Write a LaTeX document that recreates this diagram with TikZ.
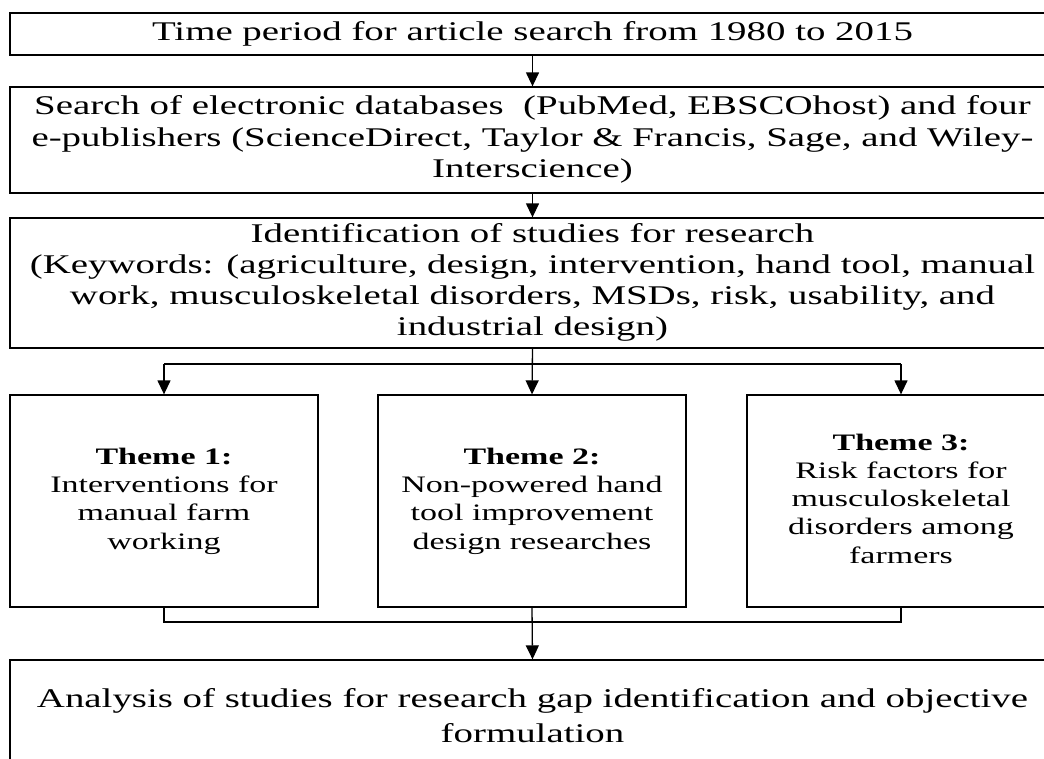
\documentclass[tikz,border=0pt]{standalone}
\usepackage{graphicx}
\usepackage{fontspec}
\setmainfont{Liberation Serif}
\usetikzlibrary{arrows.meta}

% wide serif text block: #1 font size, #2 line skip, #3 lines
\newcommand{\widetext}[3]{%
  \scalebox{1.44}[1]{\fontsize{#1}{#2}\selectfont
    \begin{tabular}{@{}c@{}}#3\end{tabular}}}

\tikzset{
  box/.style={draw=black, line width=1.3pt, rectangle, inner sep=0pt,
              align=center},
  link/.style={draw=black, line width=1.3pt},
  flow/.style={link, -{Triangle[length=14pt,width=13pt]}},
}

\begin{document}
\begin{tikzpicture}[x=1pt, y=-1pt]
  \useasboundingbox (0,0) rectangle (1044,758);
  \fill[white] (0,0) rectangle (1044,758);
  \clip (0,0) rectangle (1044,758);

  % stacked full-width boxes
  \node[box, minimum width=1045pt, minimum height=42pt] (time) at (532.5,34)
    {\widetext{27}{31.5}{Time period for article search from 1980 to 2015}};
  \node[box, minimum width=1045pt, minimum height=106pt] (search) at (532.5,140)
    {\widetext{27}{31.5}{Search of electronic databases\ \ (PubMed, EBSCOhost) and four\\
      e-publishers (ScienceDirect, Taylor \& Francis, Sage, and Wiley-\\
      Interscience)}};
  \node[box, minimum width=1045pt, minimum height=130pt] (ident) at (532.5,283)
    {\widetext{27}{31}{Identification of studies for research\\
      (Keywords: (agriculture, design, intervention, hand tool, manual\\
      work, musculoskeletal disorders, MSDs, risk, usability, and\\
      industrial design)}};

  % the three themes
  \node[box, minimum width=308pt, minimum height=212pt] (th1) at (164,501)
    {\widetext{23.6}{28.3}{\textbf{Theme 1:}\\Interventions for\\manual farm\\working}};
  \node[box, minimum width=308pt, minimum height=212pt] (th2) at (532,501)
    {\widetext{23.6}{28.3}{\textbf{Theme 2:}\\Non-powered hand\\tool improvement\\design researches}};
  \node[box, minimum width=308pt, minimum height=212pt] (th3) at (901,501)
    {\widetext{23.6}{28.3}{\textbf{Theme 3:}\\Risk factors for\\musculoskeletal\\disorders among\\farmers}};

  % final analysis box
  \node[box, minimum width=1045pt, minimum height=116pt] (anal) at (532.5,718)
    {\widetext{27}{35}{Analysis of studies for research gap identification and objective\\
      formulation}};

  % connectors
  \draw[flow] (time.south) -- (search.north);
  \draw[flow] (search.south) -- (ident.north);

  \coordinate (fork) at (532,364);
  \draw[flow] (ident.south) -- (th2.north);
  \draw[link] (th1.north |- fork) -- (th3.north |- fork);
  \draw[flow] (th1.north |- fork) -- (th1.north);
  \draw[flow] (th3.north |- fork) -- (th3.north);

  \coordinate (merge) at (532,622);
  \draw[link] (th1.south) -- (th1.south |- merge) -- (th3.south |- merge) -- (th3.south);
  \draw[flow] (th2.south) -- (anal.north);
\end{tikzpicture}
\end{document}
